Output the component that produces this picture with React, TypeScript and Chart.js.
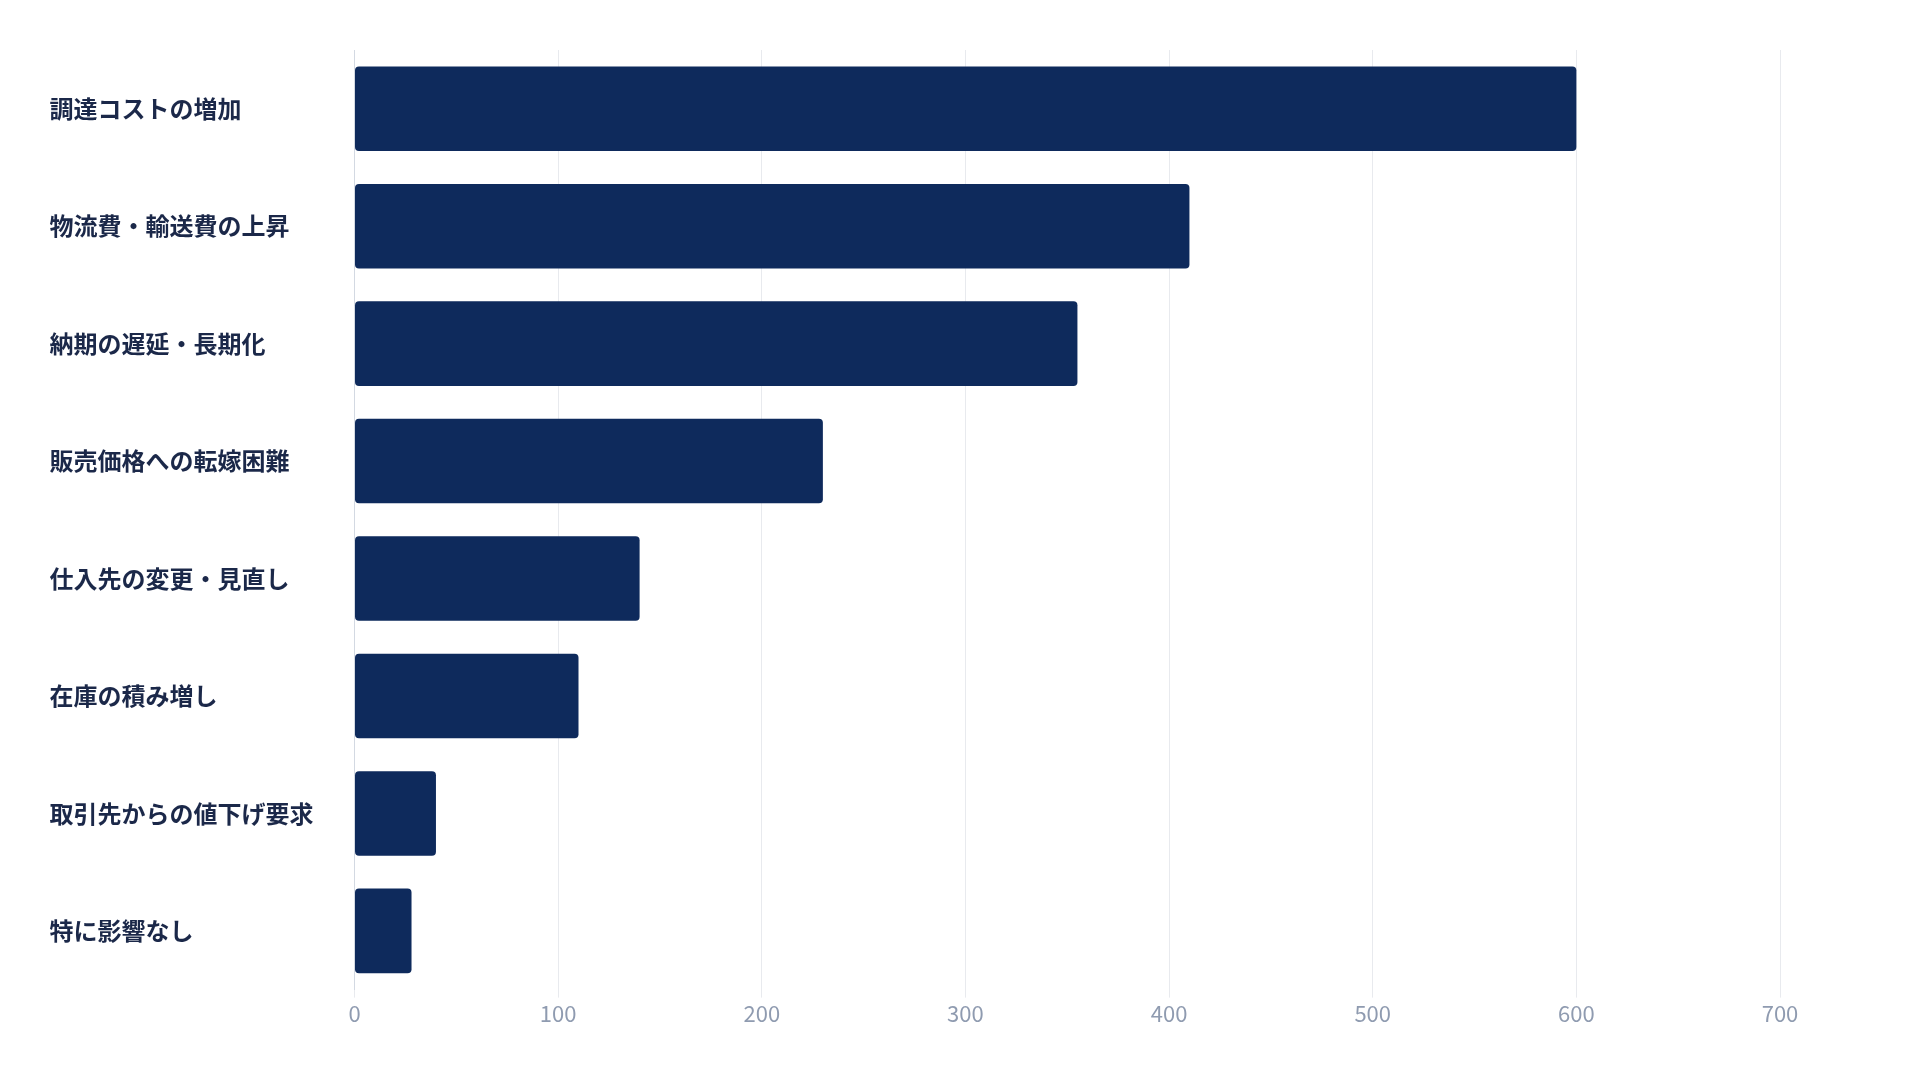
import React, { useEffect, useRef } from "react";
import { Chart, registerables } from "chart.js";

Chart.register(...registerables);

const categories = [
  "調達コストの増加",
  "物流費・輸送費の上昇",
  "納期の遅延・長期化",
  "販売価格への転嫁困難",
  "仕入先の変更・見直し",
  "在庫の積み増し",
  "取引先からの値下げ要求",
  "特に影響なし",
];

const counts = [600, 410, 355, 230, 140, 110, 40, 28];

const xTicks = [0, 100, 200, 300, 400, 500, 600, 700];

const FONT = "'Noto Sans CJK JP', 'Noto Sans', sans-serif";

export default function App() {
  const chartRef = useRef<HTMLCanvasElement>(null);

  useEffect(() => {
    const chartInstance = new Chart(chartRef.current!, {
      type: "bar",
      data: {
        labels: categories,
        datasets: [
          {
            label: "回答数",
            data: counts,
            backgroundColor: "#0e2a5c",
            borderRadius: 4,
            borderSkipped: false,
          },
        ],
      },
      options: {
        indexAxis: "y",
        responsive: true,
        maintainAspectRatio: false,
        animation: false,
        layout: {
          padding: { top: 42, bottom: 42, left: 41.5, right: 132 },
        },
        plugins: {
          legend: { display: false },
          title: { display: false },
          tooltip: { enabled: false },
        },
        scales: {
          x: {
            min: xTicks[0],
            max: xTicks[xTicks.length - 1],
            ticks: {
              stepSize: xTicks[1] - xTicks[0],
              color: "#8f9bb0",
              padding: 3,
              font: { family: FONT, size: 22 },
            },
            grid: {
              color: "#e8eaee",
              lineWidth: 1,
              drawTicks: true,
              tickLength: 8,
            },
            border: { display: false },
          },
          y: {
            ticks: {
              crossAlign: "far",
              color: "#1b2849",
              font: { family: FONT, size: 24, weight: "bold" },
            },
            grid: { display: false },
            border: { display: true, color: "#d3d9e2", width: 1 },
            afterFit: (scale: any) => {
              scale.width = 305;
            },
          },
        },
      },
    });

    return () => {
      chartInstance.destroy();
    };
  }, []);

  return (
    <div style={{ width: "100%", height: "1064px", position: "relative" }}>
      <canvas ref={chartRef} />
    </div>
  );
}
